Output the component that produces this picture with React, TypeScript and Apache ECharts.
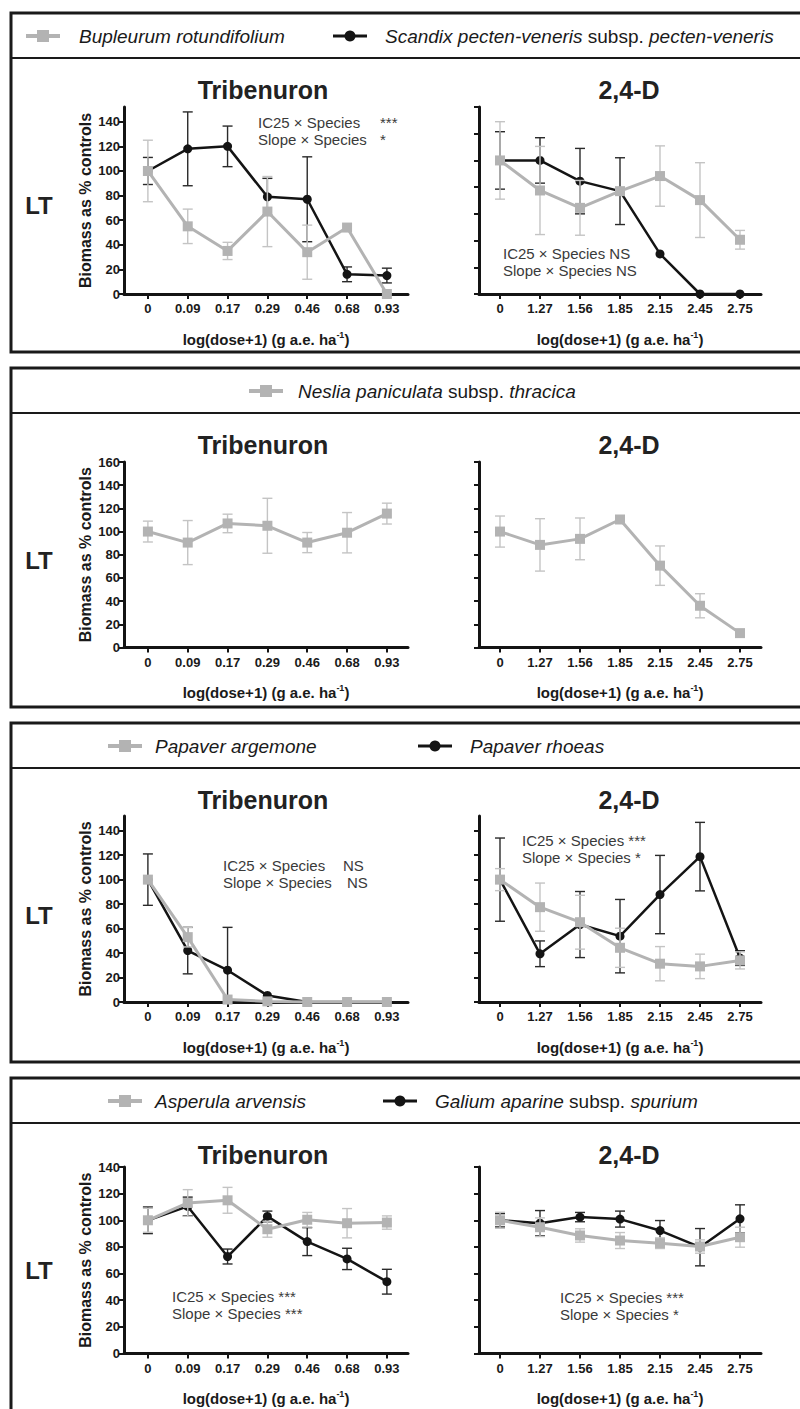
import React, { useEffect, useRef } from 'react';
import * as echarts from 'echarts';

const FONT = '"Liberation Sans", Arial, Helvetica, sans-serif';

// tick labels (category positions)
const tribLabels = ['0', '0.09', '0.17', '0.29', '0.46', '0.68', '0.93'];
const dLabels = ['0', '1.27', '1.56', '1.85', '2.15', '2.45', '2.75'];

// Panel 1: Bupleurum rotundifolium (grey) / Scandix pecten-veneris (black)
const p1TribBupleurum = [100, 55, 35, 67, 34, 54, 0];
const p1TribBupleurumErr = [25, 14, 7, 28.5, 22, 0, 0];
const p1TribScandix = [100, 118, 120, 79, 77, 16, 15];
const p1TribScandixErr = [11, 30, 16.5, 15, 34.5, 6, 6];
const p1DBupleurum = [100, 77.5, 64.5, 77, 88.3, 70.3, 40.6];
const p1DBupleurumErr = [29, 33, 20.5, 0, 22.6, 28, 7];
const p1DScandix = [100, 100, 84.5, 77, 30, 0, 0];
const p1DScandixErr = [21.5, 17, 24.5, 25, 0, 0, 0];

// Panel 2: Neslia paniculata subsp. thracica (grey)
const p2TribNeslia = [100, 90.5, 107, 105, 90.5, 99, 115.5];
const p2TribNesliaErr = [9, 19, 8, 23.7, 8.7, 17.4, 9];
const p2DNeslia = [100, 88.5, 93.7, 110.4, 70.6, 36, 12.4];
const p2DNesliaErr = [13.4, 22.6, 18, 0, 17, 10.4, 0];

// Panel 3: Papaver argemone (grey) / Papaver rhoeas (black)
const p3TribArgemone = [100, 53, 2, 0.5, 0, 0, 0];
const p3TribArgemoneErr = [0, 8, 0, 0, 0, 0, 0];
const p3TribRhoeas = [100, 42, 26, 5.4, 0, 0, 0];
const p3TribRhoeasErr = [21, 19, 35, 0, 0, 0, 0];
const p3DArgemone = [100, 77.5, 65.2, 44.3, 31.3, 29.1, 34];
const p3DArgemoneErr = [9, 19.7, 22, 16, 14, 10, 7];
const p3DRhoeas = [100, 39.4, 63.3, 53.8, 87.8, 118.8, 35.9];
const p3DRhoeasErr = [34, 10.5, 27, 30, 32, 28, 6];

// Panel 4: Asperula arvensis (grey) / Galium aparine subsp. spurium (black)
const p4TribAsperula = [100, 113, 115, 93.3, 100.4, 97.8, 98.3];
const p4TribAsperulaErr = [9, 10, 9.7, 6, 5.5, 11, 5];
const p4TribGalium = [100, 110.4, 72.8, 102.9, 84, 71, 53.9];
const p4TribGaliumErr = [10, 7, 5.6, 4, 10.5, 8, 9.3];
const p4DAsperula = [100, 94.8, 88.6, 84.8, 82.8, 80.3, 87.3];
const p4DAsperulaErr = [6, 7, 5, 6, 4, 5, 7.5];
const p4DGalium = [100, 97.8, 102.4, 100.9, 92.3, 79.8, 101.1];
const p4DGaliumErr = [5, 9.5, 3.5, 6, 7.5, 14, 10.5];

// y-axis ranges per panel
const yMaxes = [152, 160, 152, 140];
const yMaxesRight = [140, 160, 152, 140];
const yTickTops = [140, 160, 140, 140];

const GREY = '#b3b3b3';
const GREY_ERR = '#c4c4c4';
const BLACK = '#141414';
const BLACK_ERR = '#2a2a2a';

type S = { vals: number[]; errs: number[]; black: boolean };
type Plot = { p: number; right: boolean; labels: string[]; series: S[] };

const plots: Plot[] = [
  { p: 0, right: false, labels: tribLabels, series: [
    { vals: p1TribScandix, errs: p1TribScandixErr, black: true },
    { vals: p1TribBupleurum, errs: p1TribBupleurumErr, black: false }] },
  { p: 0, right: true, labels: dLabels, series: [
    { vals: p1DScandix, errs: p1DScandixErr, black: true },
    { vals: p1DBupleurum, errs: p1DBupleurumErr, black: false }] },
  { p: 1, right: false, labels: tribLabels, series: [
    { vals: p2TribNeslia, errs: p2TribNesliaErr, black: false }] },
  { p: 1, right: true, labels: dLabels, series: [
    { vals: p2DNeslia, errs: p2DNesliaErr, black: false }] },
  { p: 2, right: false, labels: tribLabels, series: [
    { vals: p3TribRhoeas, errs: p3TribRhoeasErr, black: true },
    { vals: p3TribArgemone, errs: p3TribArgemoneErr, black: false }] },
  { p: 2, right: true, labels: dLabels, series: [
    { vals: p3DRhoeas, errs: p3DRhoeasErr, black: true },
    { vals: p3DArgemone, errs: p3DArgemoneErr, black: false }] },
  { p: 3, right: false, labels: tribLabels, series: [
    { vals: p4TribGalium, errs: p4TribGaliumErr, black: true },
    { vals: p4TribAsperula, errs: p4TribAsperulaErr, black: false }] },
  { p: 3, right: true, labels: dLabels, series: [
    { vals: p4DGalium, errs: p4DGaliumErr, black: true },
    { vals: p4DAsperula, errs: p4DAsperulaErr, black: false }] },
];

// layout
const PANEL_TOP0 = 13;
const PANEL_STEP = 355;
const PANEL_H = 339;
const SEP = 45;
const gridTop = [107, 462, 816, 1167];
const gridHeight = [187, 185.5, 186, 186.5];

type LegendItem = { black: boolean; sx: number; tx: number; text: string };
const legends: LegendItem[][] = [
  [
    { black: false, sx: 43, tx: 79, text: '{i|Bupleurum rotundifolium}' },
    { black: true, sx: 350, tx: 385, text: '{i|Scandix pecten-veneris}{n| subsp. }{i|pecten-veneris}' },
  ],
  [{ black: false, sx: 266, tx: 298, text: '{i|Neslia paniculata}{n| subsp. }{i|thracica}' }],
  [
    { black: false, sx: 125, tx: 155, text: '{i|Papaver argemone}' },
    { black: true, sx: 435, tx: 470, text: '{i|Papaver rhoeas}' },
  ],
  [
    { black: false, sx: 125, tx: 155, text: '{i|Asperula arvensis}' },
    { black: true, sx: 400, tx: 435, text: '{i|Galium aparine}{n| subsp. }{i|spurium}' },
  ],
];

type Note = { x: number; y: number; text: string };
const notes: Note[] = [
  { x: 258, y: 122, text: 'IC25 × Species' },
  { x: 258, y: 139.5, text: 'Slope × Species' },
  { x: 380, y: 122, text: '***' },
  { x: 380, y: 139.5, text: '*' },
  { x: 503, y: 253, text: 'IC25 × Species NS' },
  { x: 503, y: 270, text: 'Slope × Species NS' },
  { x: 223, y: 865, text: 'IC25 × Species' },
  { x: 223, y: 882, text: 'Slope × Species' },
  { x: 343, y: 865, text: 'NS' },
  { x: 347, y: 882, text: 'NS' },
  { x: 522, y: 840, text: 'IC25 × Species ***' },
  { x: 522, y: 857, text: 'Slope × Species *' },
  { x: 172, y: 1296, text: 'IC25 × Species ***' },
  { x: 172, y: 1313, text: 'Slope × Species ***' },
  { x: 560, y: 1297, text: 'IC25 × Species ***' },
  { x: 560, y: 1314, text: 'Slope × Species *' },
];

function errRender(color: string) {
  return (params: any, api: any) => {
    const x = api.value(0);
    const hi = api.value(1);
    const lo = Math.max(api.value(2), 0);
    const a = api.coord([x, hi]);
    const b = api.coord([x, lo]);
    const w = 5;
    const st = { stroke: color, lineWidth: 1.4 };
    return {
      type: 'group',
      children: [
        { type: 'line', shape: { x1: a[0], y1: a[1], x2: b[0], y2: b[1] }, style: st },
        { type: 'line', shape: { x1: a[0] - w, y1: a[1], x2: a[0] + w, y2: a[1] }, style: st },
        { type: 'line', shape: { x1: b[0] - w, y1: b[1], x2: b[0] + w, y2: b[1] }, style: st },
      ],
    };
  };
}

function buildOption() {
  const grid: any[] = [];
  const xAxis: any[] = [];
  const yAxis: any[] = [];
  const series: any[] = [];
  const idx = [0, 1, 2, 3, 4, 5, 6];

  plots.forEach((pl, k) => {
    const left = pl.right ? 479 : 124;
    const width = pl.right ? 282 : 284;
    const xmin = pl.right ? -0.525 : -0.6;
    const xmax = pl.right ? 6.525 : 6.53;
    grid.push({ left, top: gridTop[pl.p], width, height: gridHeight[pl.p] });
    const ymax = pl.right ? yMaxesRight[pl.p] : yMaxes[pl.p];
    const yticks: number[] = [];
    for (let v = 0; v <= yTickTops[pl.p]; v += 20) yticks.push(v);
    xAxis.push({
      type: 'value', gridIndex: k, min: xmin, max: xmax,
      axisLine: { show: true, onZero: false, lineStyle: { color: BLACK, width: 3 } },
      axisTick: { show: true, length: 5, customValues: idx, lineStyle: { color: BLACK, width: 2 } },
      axisLabel: {
        show: true, customValues: idx, margin: 8,
        formatter: (v: number) => pl.labels[Math.round(v)] ?? '',
        fontSize: 13, fontWeight: 'bold', color: '#1a1a1a', fontFamily: FONT,
      },
      splitLine: { show: false },
      name: '{a|log(dose+1) (g a.e. ha}{s|-1}{a|)}',
      nameLocation: 'middle', nameGap: 36,
      nameTextStyle: {
        rich: {
          a: { fontSize: 15, fontWeight: 'bold', color: '#1a1a1a', fontFamily: FONT, lineHeight: 18 },
          s: { fontSize: 9, fontWeight: 'bold', color: '#1a1a1a', fontFamily: FONT, lineHeight: 10, verticalAlign: 'top' },
        },
      },
    });
    yAxis.push({
      type: 'value', gridIndex: k, min: 0, max: ymax,
      axisLine: { show: true, onZero: false, lineStyle: { color: BLACK, width: 3 } },
      axisTick: { show: true, length: 5, customValues: yticks, lineStyle: { color: BLACK, width: 2 } },
      axisLabel: {
        show: !pl.right, customValues: yticks, margin: 4,
        fontSize: 13, fontWeight: 'bold', color: '#1a1a1a', fontFamily: FONT,
      },
      splitLine: { show: false },
      name: pl.right ? '' : 'Biomass as % controls',
      nameLocation: 'middle', nameGap: 31,
      nameTextStyle: { fontSize: 16, fontWeight: 'bold', color: '#1a1a1a', fontFamily: FONT },
    });

    pl.series.forEach((s) => {
      const zBase = s.black ? 2 : 4;
      const errData = s.vals
        .map((v, i) => [i, v + s.errs[i], v - s.errs[i], s.errs[i]])
        .filter((d) => d[3] > 0);
      series.push({
        type: 'custom', xAxisIndex: k, yAxisIndex: k, coordinateSystem: 'cartesian2d',
        renderItem: errRender(s.black ? BLACK_ERR : GREY_ERR),
        data: errData, encode: { x: 0, y: [1, 2] }, clip: false, z: zBase, silent: true,
      });
      series.push({
        type: 'line', xAxisIndex: k, yAxisIndex: k,
        data: s.vals.map((v, i) => [i, v]),
        symbol: s.black ? 'circle' : 'rect',
        symbolSize: s.black ? 9 : 10,
        showAllSymbol: true,
        lineStyle: { color: s.black ? BLACK : GREY, width: s.black ? 2.5 : 3 },
        itemStyle: { color: s.black ? BLACK : GREY },
        clip: false, z: zBase + 1, silent: true,
      });
    });
  });

  const graphic: any[] = [];
  for (let p = 0; p < 4; p++) {
    const T = PANEL_TOP0 + PANEL_STEP * p;
    graphic.push({
      type: 'rect', shape: { x: 11, y: T, width: 830, height: PANEL_H },
      style: { fill: 'none', stroke: '#1a1a1a', lineWidth: 3 }, z: 1,
    });
    graphic.push({
      type: 'line', shape: { x1: 11, y1: T + SEP, x2: 800, y2: T + SEP },
      style: { stroke: '#1a1a1a', lineWidth: 2 }, z: 1,
    });
    graphic.push({
      type: 'text', x: 39, y: T + 192,
      style: { text: 'LT', fontSize: 24, fontWeight: 'bold', fontFamily: FONT, fill: '#222',
        align: 'center', verticalAlign: 'middle', textAlign: 'center', textVerticalAlign: 'middle' },
    });
    graphic.push({
      type: 'text', x: 263, y: T + 77,
      style: { text: 'Tribenuron', fontSize: 25, fontWeight: 'bold', fontFamily: FONT, fill: '#222',
        align: 'center', verticalAlign: 'middle', textAlign: 'center', textVerticalAlign: 'middle' },
    });
    graphic.push({
      type: 'text', x: 629, y: T + 77,
      style: { text: '2,4-D', fontSize: 25, fontWeight: 'bold', fontFamily: FONT, fill: '#222',
        align: 'center', verticalAlign: 'middle', textAlign: 'center', textVerticalAlign: 'middle' },
    });
    const ly = T + 23;
    legends[p].forEach((it) => {
      graphic.push({
        type: 'line', shape: { x1: it.sx - 17, y1: ly, x2: it.sx + 17, y2: ly },
        style: { stroke: it.black ? BLACK : GREY, lineWidth: it.black ? 3 : 4 },
      });
      if (it.black) {
        graphic.push({ type: 'circle', shape: { cx: it.sx, cy: ly, r: 5.5 }, style: { fill: BLACK } });
      } else {
        graphic.push({ type: 'rect', shape: { x: it.sx - 6, y: ly - 6, width: 12, height: 12 }, style: { fill: GREY } });
      }
      graphic.push({
        type: 'text', x: it.tx, y: ly,
        style: {
          text: it.text, fill: '#1a1a1a', fontSize: 19, fontFamily: FONT,
          align: 'left', verticalAlign: 'middle', textAlign: 'left', textVerticalAlign: 'middle',
          rich: {
            i: { fontStyle: 'italic', fontSize: 19, fontFamily: FONT, fill: '#1a1a1a' },
            n: { fontStyle: 'normal', fontSize: 19, fontFamily: FONT, fill: '#1a1a1a' },
          },
        },
      });
    });
  }
  notes.forEach((n) => {
    graphic.push({
      type: 'text', x: n.x, y: n.y,
      style: { text: n.text, fontSize: 15, fontFamily: FONT, fill: '#3a3a3a',
        align: 'left', verticalAlign: 'middle', textAlign: 'left', textVerticalAlign: 'middle' },
    });
  });

  return {
    animation: false,
    backgroundColor: '#ffffff',
    grid, xAxis, yAxis, series, graphic,
  };
}

export default function App() {
  const ref = useRef<HTMLDivElement>(null);
  useEffect(() => {
    if (!ref.current) return;
    const chart = echarts.init(ref.current, null, { renderer: 'svg' });
    chart.setOption(buildOption() as any);
    return () => chart.dispose();
  }, []);
  return (
    <div
      ref={ref}
      style={{ position: 'absolute', left: 0, top: 0, width: 800, height: 1409, background: '#fff' }}
    />
  );
}
